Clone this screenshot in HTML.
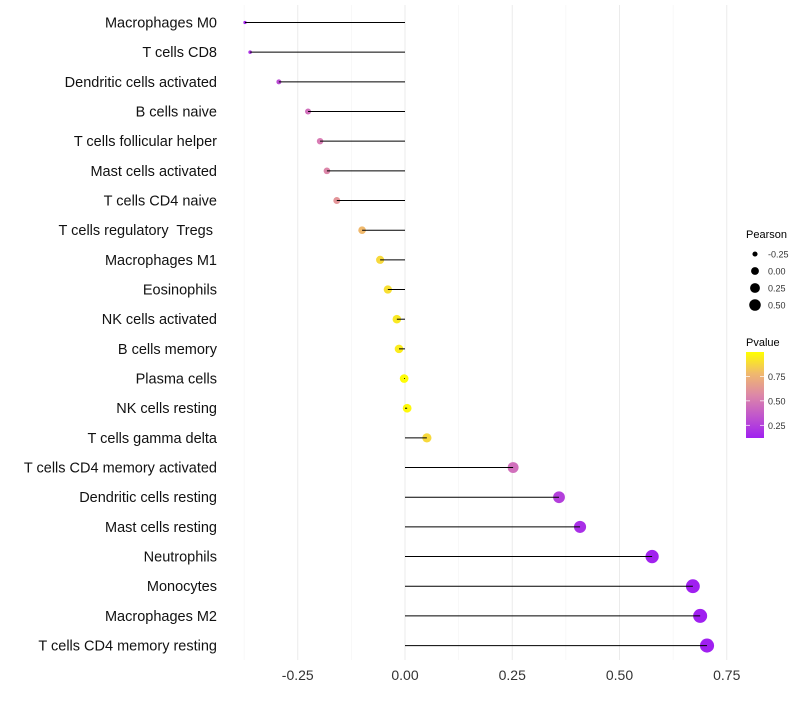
<!DOCTYPE html>
<html><head><meta charset="utf-8"><style>
body{margin:0;background:#fff;font-family:"Liberation Sans",sans-serif}
text{white-space:pre}
</style></head><body>
<svg id="c" width="800" height="700" xmlns="http://www.w3.org/2000/svg"></svg>
<script>
const categories=["Macrophages M0","T cells CD8","Dendritic cells activated","B cells naive","T cells follicular helper","Mast cells activated","T cells CD4 naive","T cells regulatory  Tregs ","Macrophages M1","Eosinophils","NK cells activated","B cells memory","Plasma cells","NK cells resting","T cells gamma delta","T cells CD4 memory activated","Dendritic cells resting","Mast cells resting","Neutrophils","Monocytes","Macrophages M2","T cells CD4 memory resting"];
const pearson=[-0.373,-0.361,-0.294,-0.226,-0.198,-0.182,-0.159,-0.100,-0.058,-0.040,-0.019,-0.014,-0.002,0.005,0.051,0.252,0.359,0.408,0.576,0.671,0.688,0.704];
const pvalue=[0.15,0.2,0.3,0.45,0.5,0.55,0.62,0.78,0.88,0.9,0.93,0.94,0.99,0.98,0.88,0.45,0.25,0.18,0.13,0.12,0.12,0.12];
const xTicks=[-0.25,0,0.25,0.5,0.75];
const xTickLabels=["-0.25","0.00","0.25","0.50","0.75"];
const sizeLegend=[-0.25,0,0.25,0.5];
const sizeLegendLabels=["-0.25","0.00","0.25","0.50"];
const colorLegend=[0.25,0.5,0.75];
const colorLegendLabels=["0.25","0.50","0.75"];
const svg=document.getElementById('c');const NS="http://www.w3.org/2000/svg";
function mk(t,a,p){const e=document.createElementNS(NS,t);for(const k in a)e.setAttribute(k,a[k]);(p||svg).appendChild(e);return e;}
const xs=v=>405+v*429;
const ys=i=>22.5+i*29.67;
const rs=v=>Math.sqrt(Math.max(2.5,19+43.7*v));
const stops=[[0.12,[160,32,240]],[0.5,[216,124,180]],[0.75,[238,176,124]],[1.0,[255,255,0]]];
function col(p){p=Math.max(0.12,Math.min(1,p));for(let i=0;i<stops.length-1;i++){const[a,c1]=stops[i],[b,c2]=stops[i+1];if(p<=b){const t=(p-a)/(b-a);return 'rgb('+c1.map((v,j)=>Math.round(v+(c2[j]-v)*t)).join(',')+')';}}return 'rgb(255,255,0)';}
const g=mk('g',{});
[-0.375,-0.125,0.125,0.375,0.625].forEach(v=>mk('line',{x1:xs(v),x2:xs(v),y1:5,y2:660,stroke:'#f4f4f4','stroke-width':0.6},g));
xTicks.forEach(v=>mk('line',{x1:xs(v),x2:xs(v),y1:5,y2:660,stroke:'#ebebeb','stroke-width':1},g));
categories.forEach((c,i)=>{
 const t=mk('text',{x:217,y:ys(i)+5,'text-anchor':'end','font-size':14.5,fill:'#111'});t.textContent=c;
 
 const d=mk('circle',{cx:xs(pearson[i]),cy:ys(i),r:rs(pearson[i]),fill:col(pvalue[i])});
 
 const l=mk('line',{x1:xs(0),x2:xs(pearson[i]),y1:ys(i),y2:ys(i),stroke:'#000','stroke-width':1});
 
});
xTicks.forEach((v,i)=>{const t=mk('text',{x:xs(v),y:680,'text-anchor':'middle','font-size':14,fill:'#333'});t.textContent=xTickLabels[i];
 });
const lt=mk('text',{x:746,y:238,'font-size':11,fill:'#000'});lt.textContent='Pearson';
sizeLegend.forEach((v,i)=>{const y=254+i*17;const c=mk('circle',{cx:755,cy:y,r:rs(v)*0.9,fill:'#000'});
 
 const t=mk('text',{x:768,y:y+3.5,'font-size':9,fill:'#333'});t.textContent=sizeLegendLabels[i];
 });
const pt=mk('text',{x:746,y:346,'font-size':11,fill:'#000'});pt.textContent='Pvalue';
const defs=mk('defs',{});const lg=mk('linearGradient',{id:'gr',x1:0,y1:1,x2:0,y2:0},defs);
[0,0.25,0.5,0.75,1].forEach(f=>{const p=0.12+f*0.88;mk('stop',{offset:f,'stop-color':col(p)},lg);});
const cb=mk('rect',{x:746,y:352,width:18,height:86,fill:'url(#gr)'});
const cy=p=>438-(p-0.12)*(86/0.88);
colorLegend.forEach((v,i)=>{mk('line',{x1:746,x2:750,y1:cy(v),y2:cy(v),stroke:'#fff','stroke-width':0.7});mk('line',{x1:760,x2:764,y1:cy(v),y2:cy(v),stroke:'#fff','stroke-width':0.7});
 const t=mk('text',{x:768,y:cy(v)+3.5,'font-size':9,fill:'#333'});t.textContent=colorLegendLabels[i];
 });
</script>
</body></html>
